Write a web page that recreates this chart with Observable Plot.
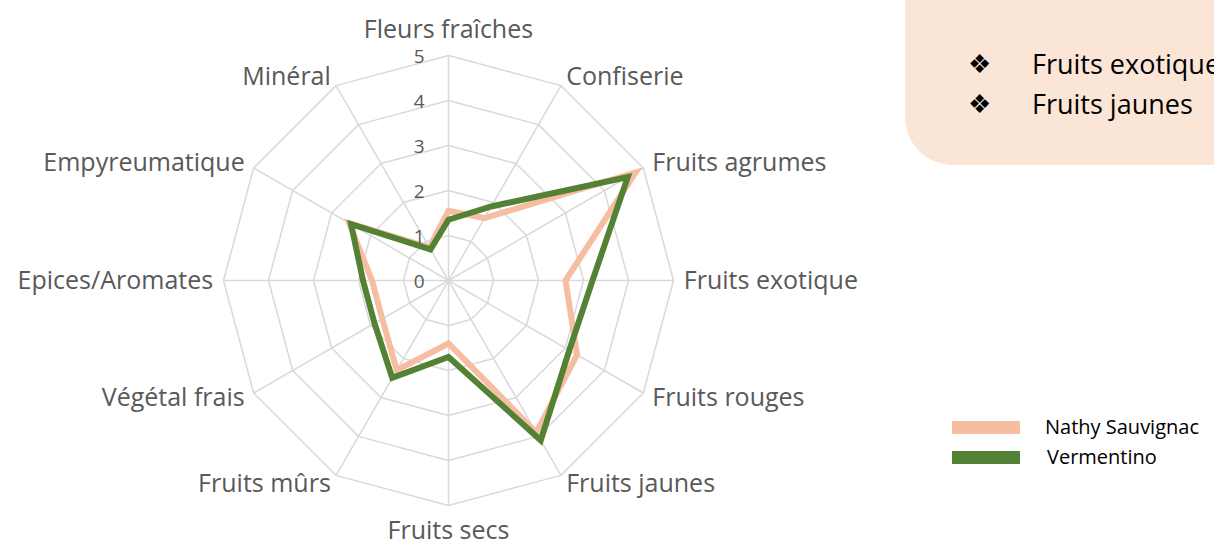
<!DOCTYPE html>
<html>
<head>
<meta charset="utf-8">
<script src="https://cdn.jsdelivr.net/npm/d3@7"></script>
<script src="https://cdn.jsdelivr.net/npm/@observablehq/plot@0.6"></script>
<style>
  html, body { margin: 0; padding: 0; background: #fff; overflow: hidden; }
  #wrap { position: relative; width: 1214px; height: 545px; overflow: hidden; font-family: "Open Sans", sans-serif; }
  #chart { position: absolute; left: 0; top: 0; }
  #note { position: absolute; left: 905px; top: -60px; width: 420px; height: 225px; background: #FBE5D6; border-radius: 48px; }
  .bul { position: absolute; font-family: "DejaVu Sans", sans-serif; font-size: 26px; line-height: 26px; color: #000; }
  .btxt { position: absolute; font-size: 27px; line-height: 32px; color: #000; white-space: nowrap; }
  .sw { position: absolute; width: 68px; height: 13px; }
  .ltxt { position: absolute; font-size: 20px; line-height: 24px; color: #000; white-space: nowrap; }
</style>
</head>
<body>
<div id="wrap">
  <div id="chart"></div>
  <div id="note"></div>
  <div id="notes"></div>
  <div id="legend"></div>
</div>
<script>
const categories = ["Fleurs fraîches", "Confiserie", "Fruits agrumes", "Fruits exotique", "Fruits rouges", "Fruits jaunes", "Fruits secs", "Fruits mûrs", "Végétal frais", "Epices/Aromates", "Empyreumatique", "Minéral"];
const nathySauvignac = [1.55, 1.6, 4.8, 2.6, 3.3, 3.9, 1.4, 2.3, 1.7, 1.7, 2.55, 0.85];
const vermentino = [1.35, 1.9, 4.6, 3.2, 3.1, 4.1, 1.7, 2.5, 1.9, 1.9, 2.5, 0.8];
const seriesNames = ["Nathy Sauvignac", "Vermentino"];
const seriesColors = ["#F7BDA0", "#548235"];
const ticks = [0, 1, 2, 3, 4, 5];
const noteItems = ["Fruits exotique", "Fruits jaunes"];

const seriesValues = [nathySauvignac, vermentino];
const n = categories.length;
const maxV = d3.max(ticks);
const ang = i => i * 2 * Math.PI / n;
const px = (i, r) => r * Math.sin(ang(i));
const py = (i, r) => r * Math.cos(ang(i));

const ringData = ticks.filter(t => t > 0).flatMap(t => d3.range(n + 1).map(i => ({ring: t, x: px(i % n, t), y: py(i % n, t)})));
const spokes = categories.map((c, i) => ({x1: 0, y1: 0, x2: px(i, maxV), y2: py(i, maxV)}));
const lineData = seriesNames.flatMap((name, s) => d3.range(n + 1).map(i => ({name, x: px(i % n, seriesValues[s][i % n]), y: py(i % n, seriesValues[s][i % n])})));

const labelData = categories.map((c, i) => {
  const sn = Math.sin(ang(i));
  const r = Math.abs(sn) < 0.01 ? maxV * 1.115 : maxV * 1.046;
  return {c, x: px(i, r), y: py(i, r), side: Math.abs(sn) < 0.01 ? "mid" : (sn > 0 ? "right" : "left")};
});

const W = 1214, H = 545, unit = 45, cx = 448, cy = 280;
const font = "'Open Sans', sans-serif";

const chart = Plot.plot({
  width: W, height: H, margin: 0,
  style: {fontFamily: font, background: "transparent", overflow: "visible"},
  x: {domain: [-cx / unit, (W - cx) / unit], axis: null},
  y: {domain: [-(H - cy) / unit, cy / unit], axis: null},
  color: {domain: seriesNames, range: seriesColors},
  marks: [
    Plot.line(ringData, {x: "x", y: "y", z: "ring", stroke: "#D9D9D9", strokeWidth: 1.5}),
    Plot.link(spokes, {x1: "x1", y1: "y1", x2: "x2", y2: "y2", stroke: "#D9D9D9", strokeWidth: 1.5}),
    Plot.line(lineData, {x: "x", y: "y", z: "name", stroke: "name", strokeWidth: 6, strokeLinejoin: "miter", strokeMiterlimit: 3}),
    Plot.text(ticks, {x: () => 0, y: d => d, text: d => String(d), dx: -24, dy: 1, textAnchor: "end", fontSize: 19, fill: "#595959"}),
    Plot.text(labelData.filter(d => d.side === "right"), {x: "x", y: "y", text: "c", textAnchor: "start", fontSize: 25, fill: "#595959"}),
    Plot.text(labelData.filter(d => d.side === "left"), {x: "x", y: "y", text: "c", textAnchor: "end", fontSize: 25, fill: "#595959"}),
    Plot.text(labelData.filter(d => d.side === "mid"), {x: "x", y: "y", text: "c", textAnchor: "middle", fontSize: 25, fill: "#595959"})
  ]
});
document.getElementById("chart").appendChild(chart);

// note box bullets
const notes = document.getElementById("notes");
noteItems.forEach((t, k) => {
  const b = document.createElement("div");
  b.className = "bul"; b.textContent = "❖";
  b.style.left = "968px"; b.style.top = (51 + k * 40) + "px";
  notes.appendChild(b);
  const s = document.createElement("div");
  s.className = "btxt"; s.textContent = t;
  s.style.left = "1032px"; s.style.top = (48 + k * 40) + "px";
  notes.appendChild(s);
});

// legend
const legend = document.getElementById("legend");
seriesNames.forEach((name, k) => {
  const sw = document.createElement("div");
  sw.className = "sw"; sw.style.background = seriesColors[k];
  sw.style.left = "952px"; sw.style.top = (421 + k * 30) + "px";
  legend.appendChild(sw);
  const t = document.createElement("div");
  t.className = "ltxt"; t.textContent = name;
  t.style.left = (1045 + k * 2) + "px"; t.style.top = (415 + k * 30) + "px";
  legend.appendChild(t);
});
</script>
</body>
</html>
